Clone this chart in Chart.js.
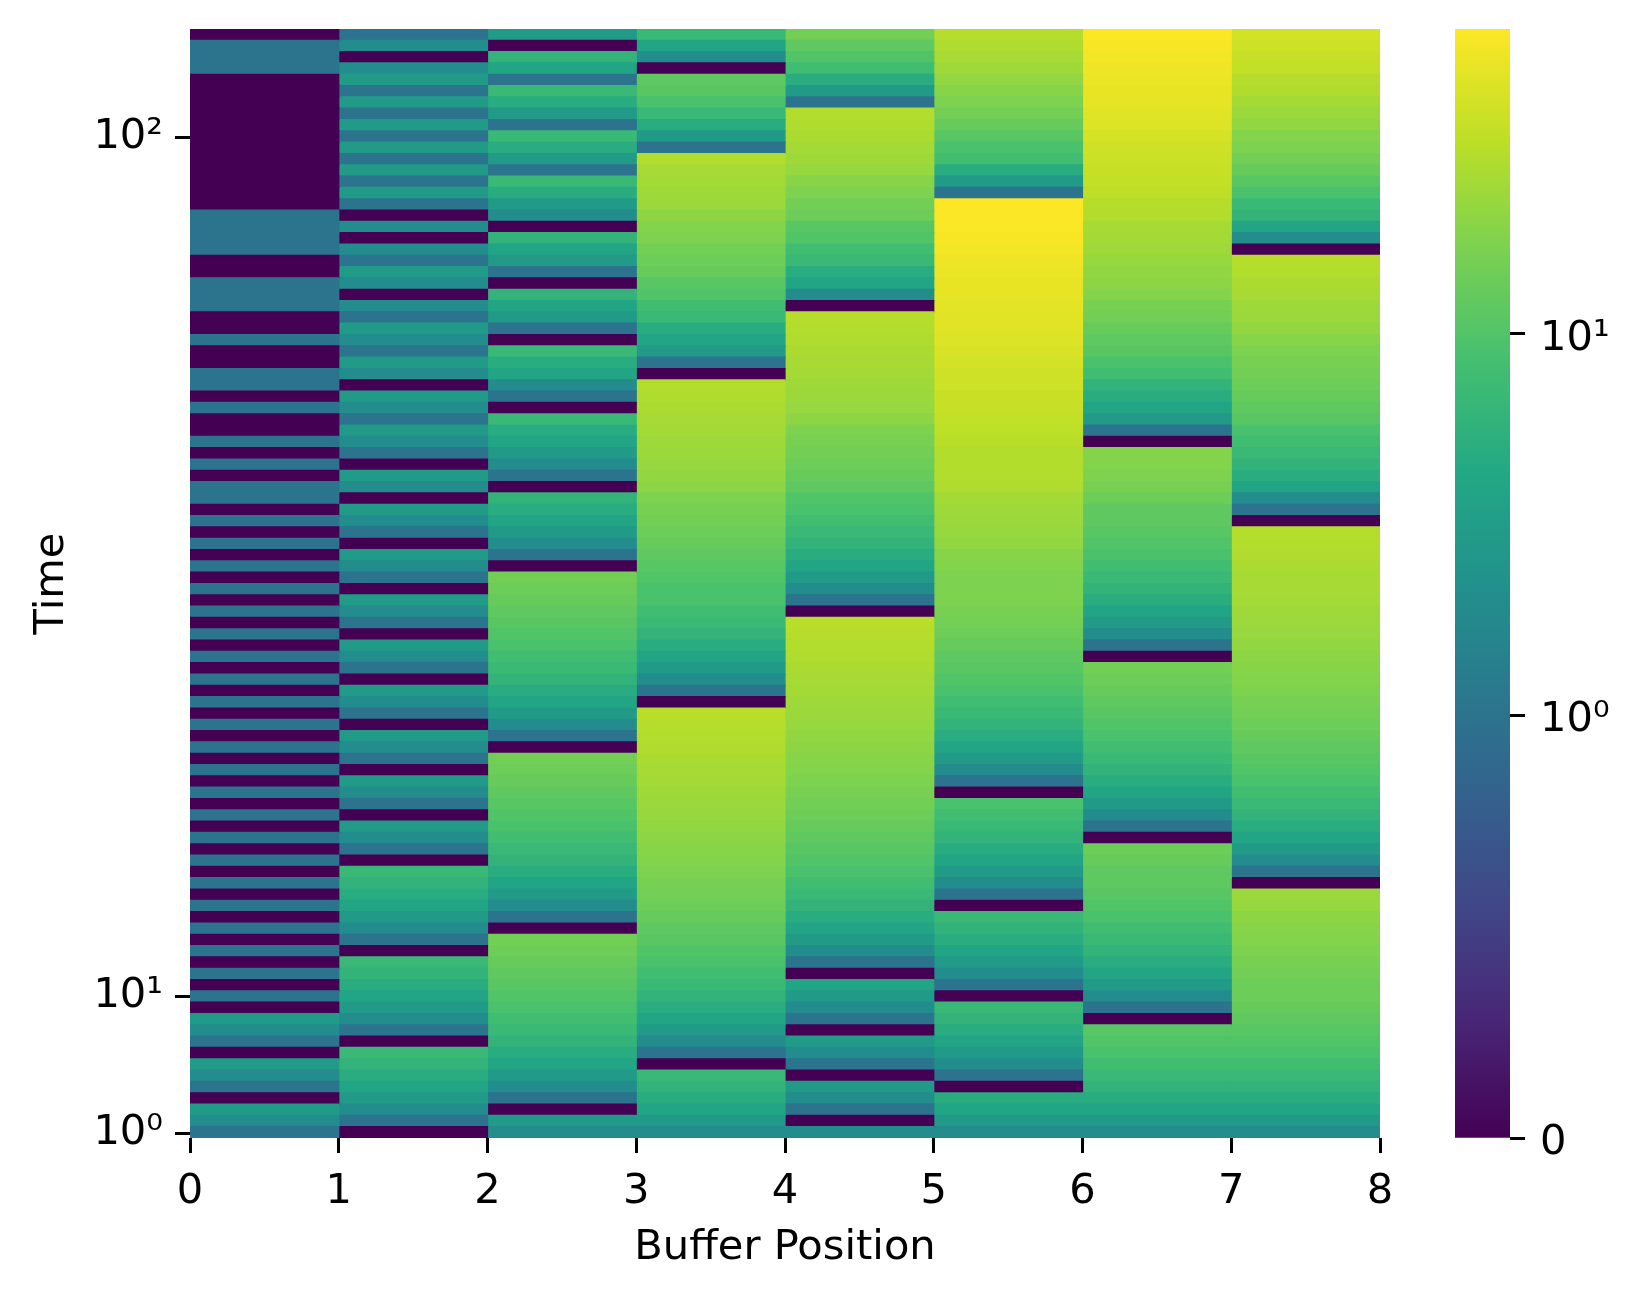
<!DOCTYPE html>
<html>
<head>
<meta charset="utf-8">
<title>Buffer occupancy heatmap</title>
<script src="https://cdn.jsdelivr.net/npm/chart.js@4/dist/chart.umd.js"></script>
<style>
  html, body { margin: 0; padding: 0; background: #fff; }
  canvas { position: absolute; top: 0; }
  #heatChart { left: 0; }
  #barChart { left: 1440px; }
</style>
</head>
<body>
<canvas id="heatChart" width="1440" height="1298"></canvas>
<canvas id="barChart" width="200" height="1298"></canvas>
<script>
// one array per buffer position, first value is the top row of the picture
const col0 = [0,1,1,1,0,0,0,0,0,0,
  0,0,0,0,0,0,1,1,1,1,
  0,0,1,1,1,0,0,1,0,0,
  1,1,0,1,0,0,1,0,1,0,
  1,1,0,1,0,1,0,1,0,1,
  0,1,0,1,0,1,0,1,0,1,
  0,1,0,1,0,1,0,1,0,1,
  0,1,0,1,0,1,0,1,0,1,
  0,1,0,1,0,1,0,3,2,1,
  0,3,2,1,0,3,2,1];
const col1 = [1,2,0,2,3,1,3,1,3,1,
  3,1,3,1,3,1,0,2,0,2,
  1,3,2,0,2,1,3,2,1,3,
  2,0,3,2,1,3,2,1,0,3,
  2,0,3,2,1,0,3,2,1,0,
  3,2,1,0,3,2,1,0,3,2,
  1,0,3,2,1,0,3,2,1,0,
  3,2,1,0,7,6,5,4,3,2,
  1,0,7,6,5,4,3,2,1,0,
  7,6,5,4,3,2,1,0];
const col2 = [3,0,6,4,1,7,5,3,1,7,
  5,3,1,7,5,3,2,0,6,4,
  3,1,0,6,4,3,1,0,7,5,
  4,2,1,0,7,5,4,3,2,1,
  0,6,5,4,3,2,1,0,15,14,
  13,12,11,10,9,8,7,6,5,4,
  3,2,1,0,15,14,13,12,11,10,
  9,8,7,6,5,4,3,2,1,0,
  15,14,13,12,11,10,9,8,7,6,
  5,4,3,2,1,0,3,2];
const col3 = [7,4,2,0,12,11,9,7,5,3,
  1,29,26,25,24,23,20,18,17,15,
  14,13,11,10,8,7,5,4,3,1,
  0,29,28,27,26,25,24,23,22,21,
  20,17,16,15,14,13,12,11,10,9,
  9,8,7,6,5,4,3,2,1,0,
  31,30,29,28,27,26,25,24,23,22,
  21,20,19,18,17,16,15,14,13,12,
  11,10,9,8,7,6,5,4,3,2,
  1,0,7,6,5,4,3,2];
const col4 = [15,12,10,8,5,3,1,29,28,27,
  25,24,22,19,17,15,14,11,10,8,
  7,5,4,2,0,30,29,28,27,26,
  25,24,23,22,20,17,16,15,14,13,
  12,10,9,8,7,6,5,4,3,2,
  1,0,31,30,29,28,27,26,25,24,
  23,22,21,20,19,18,17,16,15,14,
  13,12,11,10,9,8,7,6,5,4,
  3,2,1,0,4,3,2,1,0,3,
  2,1,0,3,2,1,0,2];
const col5 = [30,28,26,24,21,19,17,15,13,11,
  9,8,5,3,1,63,62,61,60,57,
  55,52,50,50,48,47,47,45,43,40,
  39,38,36,35,34,32,31,29,29,29,
  28,25,24,23,22,21,19,18,17,17,
  17,16,15,14,13,12,11,10,9,8,
  7,6,5,4,3,2,1,0,9,8,
  7,6,5,4,3,2,1,0,7,6,
  5,4,3,2,1,0,7,6,5,4,
  3,2,1,0,5,4,3,2];
const col6 = [63,60,57,55,52,50,49,47,45,42,
  39,37,36,34,33,30,29,26,25,24,
  22,21,20,18,16,15,13,12,11,9,
  8,6,5,4,3,1,0,18,18,17,
  16,14,12,12,11,10,9,8,7,6,
  5,4,3,2,1,0,15,14,13,12,
  11,10,9,8,7,6,5,4,3,2,
  1,0,14,13,12,12,11,10,9,8,
  7,6,5,4,3,2,1,0,11,10,
  9,8,7,6,5,4,3,2];
const col7 = [40,38,35,34,30,28,25,23,21,18,
  17,15,13,11,9,7,6,4,2,0,
  30,29,27,26,24,23,21,19,17,16,
  15,14,13,12,11,9,8,7,6,5,
  4,2,1,0,30,29,28,27,26,26,
  25,24,23,22,21,20,19,18,17,16,
  15,14,13,12,11,10,9,8,7,6,
  5,4,3,2,1,0,23,22,20,19,
  18,17,16,15,14,14,13,12,11,10,
  9,8,7,6,5,4,3,2];
const columns = [col0, col1, col2, col3, col4, col5, col6, col7];

const xTicks = [0, 1, 2, 3, 4, 5, 6, 7, 8];
const yTickRows = [97.6, 85.5, 9.57];
const yTickLabels = ['10\u2070', '10\u00b9', '10\u00b2'];
const barTickValues = [0, 1, 10];
const barTickLabels = ['0', '10\u2070', '10\u00b9'];
const viridis = ['#440154', '#482475', '#414487', '#355f8d', '#2a788e', '#21918c',
  '#22a884', '#44bf70', '#7ad151', '#bddf26', '#fde725'];

Chart.defaults.font.family = '"DejaVu Sans"';
Chart.defaults.font.size = 41.6;
Chart.defaults.color = '#000';
Chart.defaults.animation = false;

// symlog colour scale, same fractions as the colour bar
function norm(v) {
  return v <= 0 ? 0 : Math.min(1, 0.381 + 0.344 * Math.log10(v));
}

function hexRgb(h) {
  return [1, 3, 5].map(i => parseInt(h.substr(i, 2), 16));
}

function colourOf(v) {
  const p = norm(v) * (viridis.length - 1);
  const i = Math.min(Math.floor(p), viridis.length - 2);
  const a = hexRgb(viridis[i]), b = hexRgb(viridis[i + 1]);
  const c = a.map((n, k) => Math.round(n + (b[k] - n) * (p - i)));
  return `rgb(${c[0]},${c[1]},${c[2]})`;
}

const tickGrid = {
  drawOnChartArea: false,
  drawTicks: true,
  tickLength: 15,
  tickWidth: 3,
  tickColor: '#000',
};

// stops the tick labels from pushing the plot area in
function noLabelMargin(s) {
  s.paddingTop = 0;
  s.paddingBottom = 0;
}

new Chart(document.getElementById('heatChart'), {
  type: 'bar',
  data: {
    datasets: columns.map((col, c) => ({
      data: col.map((v, r) => ({ x: c + 0.5, y: [r, r + 1], v: v })),
      backgroundColor: col.map(colourOf),
      borderWidth: 0,
      inflateAmount: 0.6,
      barPercentage: 1,
      categoryPercentage: 1,
      grouped: false,
    })),
  },
  options: {
    responsive: false,
    layout: { padding: { top: 29, right: 60, bottom: 0, left: 0 } },
    plugins: { legend: { display: false }, tooltip: { enabled: false } },
    scales: {
      x: {
        type: 'linear',
        min: 0,
        max: 8,
        offset: false,
        afterFit: s => { s.height = 160; },
        afterBuildTicks: s => { s.ticks = xTicks.map(v => ({ value: v })); },
        grid: { ...tickGrid, offset: false },
        border: { display: false },
        ticks: { padding: 14, maxRotation: 0, autoSkip: false },
        title: { display: true, text: 'Buffer Position', padding: { top: 0, bottom: 25 } },
      },
      y: {
        type: 'linear',
        reverse: true,
        min: 0,
        max: 98,
        afterFit: s => { s.width = 190; noLabelMargin(s); },
        afterBuildTicks: s => { s.ticks = yTickRows.map(v => ({ value: v })); },
        grid: tickGrid,
        border: { display: false },
        ticks: {
          padding: 12,
          autoSkip: false,
          callback: v => yTickLabels[yTickRows.indexOf(v)],
        },
        title: { display: true, text: 'Time', padding: { top: 27, bottom: 0 } },
      },
    },
  },
});

new Chart(document.getElementById('barChart'), {
  type: 'bar',
  data: {
    labels: [''],
    datasets: [{
      data: [[0, 1]],
      borderWidth: 0,
      barPercentage: 1,
      categoryPercentage: 1,
      backgroundColor: ctx => {
        const area = ctx.chart.chartArea;
        if (!area) return viridis[0];
        const g = ctx.chart.ctx.createLinearGradient(0, area.bottom, 0, area.top);
        viridis.forEach((c, i) => g.addColorStop(i / (viridis.length - 1), c));
        return g;
      },
    }],
  },
  options: {
    responsive: false,
    layout: { padding: { top: 29, right: 0, bottom: 160, left: 15 } },
    plugins: { legend: { display: false }, tooltip: { enabled: false } },
    scales: {
      x: { display: false },
      y: {
        position: 'right',
        min: 0,
        max: 1,
        afterFit: s => { s.width = 130; noLabelMargin(s); },
        afterBuildTicks: s => { s.ticks = barTickValues.map(v => ({ value: norm(v) })); },
        grid: tickGrid,
        border: { display: false },
        ticks: {
          padding: 15,
          autoSkip: false,
          // empty first line with a small line height nudges the label down a few px
          font: { lineHeight: 0.24 },
          callback: v => ['', barTickLabels[barTickValues.findIndex(t => norm(t) === v)]],
        },
      },
    },
  },
});
</script>
</body>
</html>
